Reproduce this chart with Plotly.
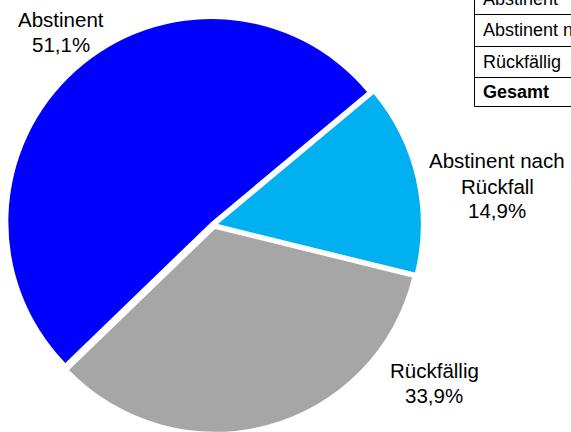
import plotly.graph_objects as go

# Outcome categories and their shares (percent)
categories = ["Abstinent", "Abstinent nach Rückfall", "Rückfällig"]
shares = [51.1, 14.9, 33.9]
label_lines = [["Abstinent"], ["Abstinent nach", "Rückfall"], ["Rückfällig"]]
table_rows = ["Abstinent", "Abstinent nach Rückfall", "Rückfällig", "Gesamt"]

colors = ["#0000FF", "#00B0F0", "#A6A6A6"]

W, H = 571, 432


def px(x):
    return x / W


def py(y):
    return 1 - y / H


def pct(v):
    return f"{v:.1f}".replace(".", ",") + "%"


fig = go.Figure()
fig.add_trace(go.Pie(
    labels=categories,
    values=shares,
    sort=False,
    direction="clockwise",
    rotation=-134,
    pull=[0.02, 0.02, 0.02],
    marker=dict(colors=colors, line=dict(width=0)),
    textinfo="none",
    hoverinfo="label+percent",
    domain=dict(x=[px(7), px(421)], y=[0, 414 / H]),
    showlegend=False,
))

annotations = []
font = dict(family="Liberation Sans, Arial, sans-serif", size=20.5, color="#000000")

# Outside slice labels: name lines followed by the percentage
label_pos = [
    (61, [20, 45]),
    (497, [161, 186, 210]),
    (434, [370, 395]),
]
for (cx, ys), lines, val in zip(label_pos, label_lines, shares):
    texts = lines + [pct(val)]
    for t, y in zip(texts, ys):
        annotations.append(dict(
            x=px(cx), y=py(y), xref="paper", yref="paper",
            text=t, showarrow=False, xanchor="center", yanchor="middle",
            font=font,
        ))

# Summary table in the top-right corner
row_lines = [14, 46, 77, 106]
row_centers = [-1, 30, 62, 92]
table_font = dict(family="Liberation Sans, Arial, sans-serif", size=18, color="#000000")
for name, yc in zip(table_rows, row_centers):
    txt = f"<b>{name}</b>" if name == "Gesamt" else name
    annotations.append(dict(
        x=px(481), y=py(yc), xref="paper", yref="paper",
        text=txt, showarrow=False, xanchor="left", yanchor="middle",
        font=table_font,
    ))

shapes = [dict(type="line", xref="paper", yref="paper",
               x0=px(474.5), x1=px(474.5), y0=py(-20), y1=py(106.5),
               line=dict(color="#000000", width=1))]
for yl in row_lines:
    shapes.append(dict(type="line", xref="paper", yref="paper",
                       x0=px(474.5), x1=px(640), y0=py(yl + 0.5), y1=py(yl + 0.5),
                       line=dict(color="#000000", width=1)))

fig.update_layout(
    width=W, height=H,
    margin=dict(l=0, r=0, t=0, b=0),
    paper_bgcolor="#FFFFFF",
    plot_bgcolor="#FFFFFF",
    annotations=annotations,
    shapes=shapes,
)

fig.write_html("out.html")
